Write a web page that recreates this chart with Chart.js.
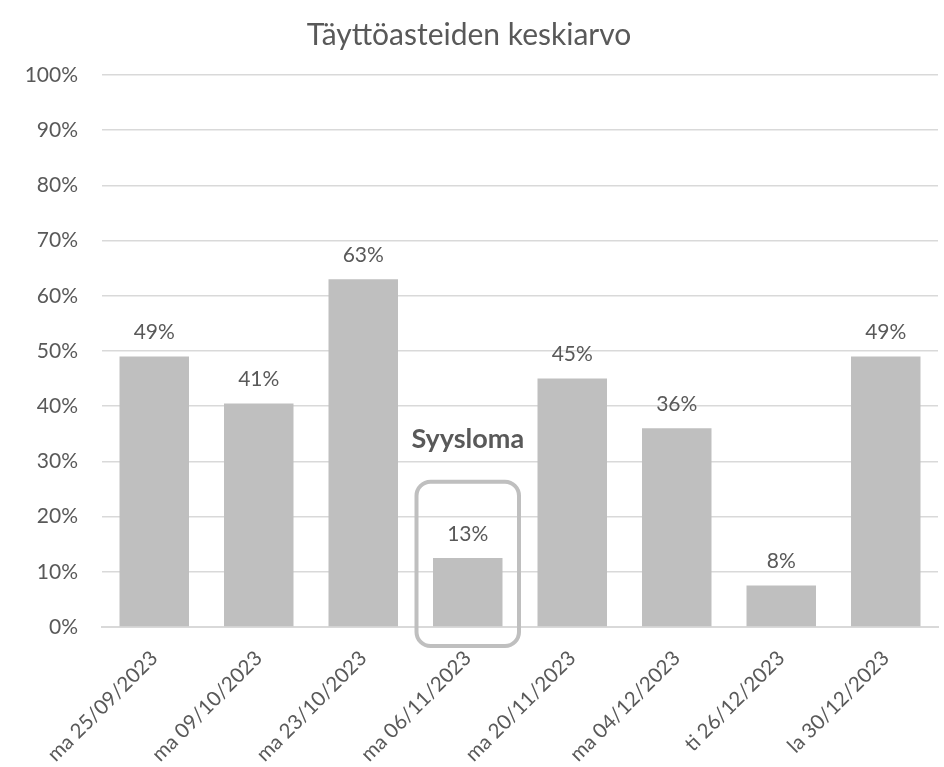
<!DOCTYPE html>
<html>
<head>
<meta charset="utf-8">
<script src="https://cdn.jsdelivr.net/npm/chart.js@4/dist/chart.umd.min.js"></script>
<style>
  html, body { margin: 0; padding: 0; background: #fff; }
  #wrap { width: 944px; height: 767px; }
</style>
</head>
<body>
<div id="wrap"><canvas id="chart"></canvas></div>
<script>
const paivat = [
  "ma 25/09/2023", "ma 09/10/2023", "ma 23/10/2023", "ma 06/11/2023",
  "ma 20/11/2023", "ma 04/12/2023", "ti 26/12/2023", "la 30/12/2023"
];
const tayttoaste = [49, 40.5, 63, 12.5, 45, 36, 7.5, 49];
const yTicks = [0, 10, 20, 30, 40, 50, 60, 70, 80, 90, 100];
const lomaIndeksi = 3;
const lomaTeksti = "Syysloma";

const TEKSTI = "#595959";
const FONTTI = "Lato, sans-serif";

// arvot palkkien ylle
const arvoLabelit = {
  id: "arvoLabelit",
  afterDatasetsDraw(chart) {
    const { ctx } = chart;
    const meta = chart.getDatasetMeta(0);
    ctx.save();
    ctx.font = "21px " + FONTTI;
    ctx.fillStyle = TEKSTI;
    ctx.textAlign = "center";
    ctx.textBaseline = "middle";
    meta.data.forEach((bar, i) => {
      ctx.fillText(Math.round(tayttoaste[i]) + "%", bar.x, bar.y - 24);
    });
    ctx.restore();
  }
};

// syysloman kehys ja otsikko
const lomaKehys = {
  id: "lomaKehys",
  afterDatasetsDraw(chart) {
    const { ctx, scales } = chart;
    const bar = chart.getDatasetMeta(0).data[lomaIndeksi];
    const leveys = scales.x.getPixelForValue(1) - scales.x.getPixelForValue(0);
    const x0 = bar.x - leveys / 2 + 1;
    const x1 = bar.x + leveys / 2 - 1;
    const y0 = scales.y.getPixelForValue(26.3);
    const y1 = scales.y.getPixelForValue(0) + 19;
    ctx.save();
    ctx.strokeStyle = "#bfbfbf";
    ctx.lineWidth = 4;
    ctx.beginPath();
    ctx.roundRect(x0, y0, x1 - x0, y1 - y0, 14);
    ctx.stroke();
    ctx.font = "bold 27px " + FONTTI;
    ctx.fillStyle = TEKSTI;
    ctx.textAlign = "center";
    ctx.textBaseline = "middle";
    ctx.fillText(lomaTeksti, bar.x, scales.y.getPixelForValue(34));
    ctx.restore();
  }
};

new Chart(document.getElementById("chart"), {
  type: "bar",
  data: {
    labels: paivat,
    datasets: [{
      data: tayttoaste,
      backgroundColor: "#bfbfbf",
      categoryPercentage: 1,
      barPercentage: 0.665
    }]
  },
  options: {
    responsive: true,
    maintainAspectRatio: false,
    animation: false,
    layout: { padding: { left: 0, right: 6, top: 0, bottom: 0 } },
    plugins: {
      legend: { display: false },
      tooltip: { enabled: false },
      title: {
        display: true,
        text: "Täyttöasteiden keskiarvo",
        color: TEKSTI,
        font: { family: FONTTI, size: 30, weight: "normal", lineHeight: 1.2 },
        padding: { top: 17, bottom: 22 }
      }
    },
    scales: {
      x: {
        grid: { display: false, drawTicks: false },
        border: { color: "#d9d9d9", width: 2 },
        ticks: {
          color: TEKSTI,
          font: { family: FONTTI, size: 20.5 },
          minRotation: 45,
          maxRotation: 45,
          padding: 19
        },
        afterFit: (scale) => { scale.height = 140; }
      },
      y: {
        min: 0,
        max: 100,
        afterBuildTicks: (axis) => { axis.ticks = yTicks.map(v => ({ value: v })); },
        grid: { color: "#d9d9d9", lineWidth: 1.5, drawTicks: false },
        border: { display: false },
        ticks: {
          color: TEKSTI,
          font: { family: FONTTI, size: 21 },
          padding: 24,
          callback: (v) => v + "%"
        },
        afterFit: (scale) => { scale.width = 102; }
      }
    }
  },
  plugins: [arvoLabelit, lomaKehys]
});
</script>
</body>
</html>
